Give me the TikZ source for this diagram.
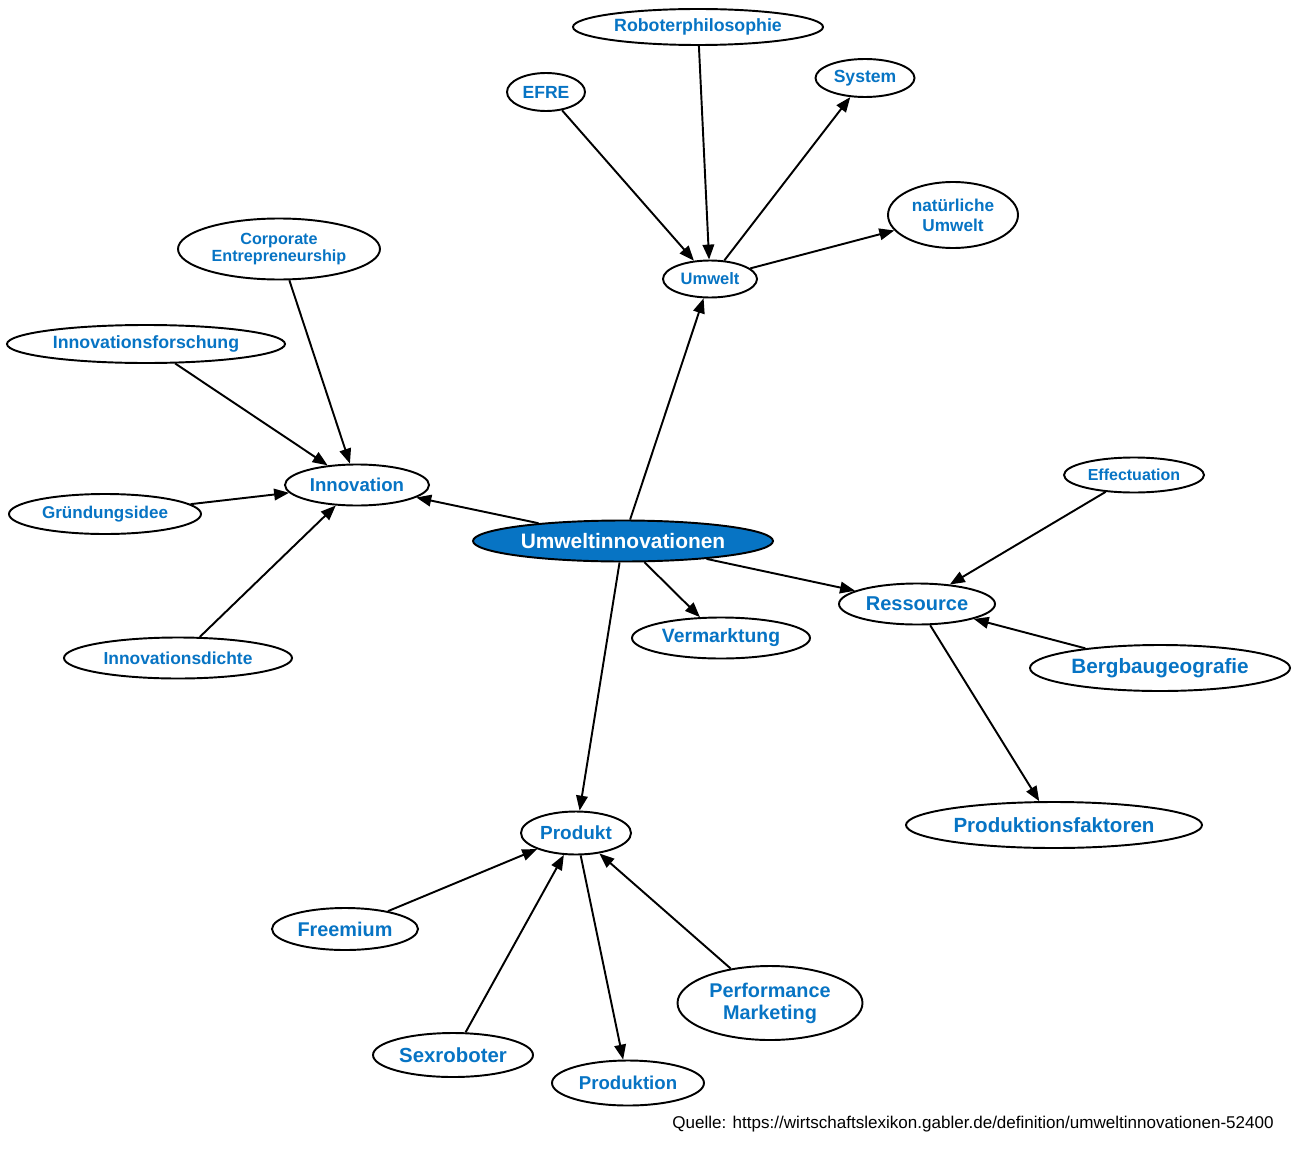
\documentclass[tikz,border=0pt]{standalone}
\usepackage{fontspec}
\setmainfont{Liberation Sans}
\usetikzlibrary{arrows.meta,shapes.geometric}
\definecolor{lexblue}{HTML}{0774C4}

\tikzset{
    term/.style={ellipse,draw,line width=1.1pt,fill=white,text=lexblue,
                 inner sep=0pt,align=center},
    hub/.style={term,fill=lexblue,text=white},
    dims/.style 2 args={minimum width=#1*0.02cm,minimum height=#2*0.02cm},
    fsize/.style={font={\fontsize{#1}{#1}\selectfont\bfseries}},
    link/.style={line width=1.1pt,-{Triangle[length=8.5pt,width=6.6pt]}}
}

\begin{document}
\begin{tikzpicture}[x=0.02cm,y=-0.02cm]
    \useasboundingbox (0,0) rectangle (1300,1152);

    % Centre
    \node[hub,dims={300}{41},fsize=11.9] (umwi) at (623,541) {Umweltinnovationen};

    % Umwelt branch
    \node[term,dims={94}{37},fsize=9.4] (umwelt) at (710,279) {Umwelt};
    \node[term,dims={250}{36},fsize=10.1] (robo) at (698,27) {Roboterphilosophie};
    \node[term,dims={78}{38},fsize=10] (efre) at (546,92) {EFRE};
    \node[term,dims={99}{38},fsize=10] (system) at (865,78) {System};
    \node[term,dims={130}{66},fsize=9.8] (natur) at (953,215) {natürliche\\[1.5pt]Umwelt};

    % Innovation branch
    \node[term,dims={144}{41},fsize=10.6] (innov) at (357,485) {Innovation};
    \node[term,dims={202}{61},fsize=9.2] (corp) at (279,249) {Corporate\\Entrepreneurship};
    \node[term,dims={278}{38},fsize=10.1] (iforsch) at (146,344) {Innovationsforschung};
    \node[term,dims={192}{40},fsize=9.7] (gruend) at (105,514) {Gründungsidee};
    \node[term,dims={228}{41},fsize=9.9] (idichte) at (178,658) {Innovationsdichte};

    % Ressource branch
    \node[term,dims={156}{41},fsize=11.4] (ress) at (917,604) {Ressource};
    \node[term,dims={140}{35},fsize=9.1] (effect) at (1134,475) {Effectuation};
    \node[term,dims={260}{46},fsize=11.8] (bergbau) at (1160,668) {Bergbaugeografie};
    \node[term,dims={296}{46},fsize=11.7] (pfakt) at (1054,825) {Produktionsfaktoren};

    \node[term,dims={178}{41},fsize=11] (vermark) at (721,638) {Vermarktung};

    % Produkt branch
    \node[term,dims={110}{43},fsize=10.8] (prod) at (576,833) {Produkt};
    \node[term,dims={146}{42},fsize=11.3] (freem) at (345,929) {Freemium};
    \node[term,dims={185}{74},fsize=11.3] (perf) at (770,1003) {Performance\\[1.2pt]Marketing};
    \node[term,dims={160}{44},fsize=11.6] (sexr) at (453,1055) {Sexroboter};
    \node[term,dims={152}{45},fsize=10.6] (produktion) at (628,1083) {Produktion};

    % Source
    \node[anchor=east,inner sep=0pt,font=\fontsize{9.7}{11}\selectfont] (quelle) at (1274,1124)
        {Quelle: https://wirtschaftslexikon.gabler.de/definition/umweltinnovationen-52400};

    % Edges
    \draw[link] (umwi) -- (umwelt);
    \draw[link] (umwi) -- (innov);
    \draw[link] (umwi) -- (vermark);
    \draw[link] (umwi) -- (ress);
    \draw[link] (umwi) -- (prod);

    \draw[link] (efre) -- (umwelt);
    \draw[link] (robo) -- (umwelt);
    \draw[link] (umwelt) -- (system);
    \draw[link] (umwelt) -- (natur);

    \draw[link] (corp) -- (innov);
    \draw[link] (iforsch) -- (innov);
    \draw[link] (gruend) -- (innov);
    \draw[link] (idichte) -- (innov);

    \draw[link] (effect) -- (ress);
    \draw[link] (bergbau) -- (ress);
    \draw[link] (ress) -- (pfakt);

    \draw[link] (freem) -- (prod);
    \draw[link] (sexr) -- (prod);
    \draw[link] (perf) -- (prod);
    \draw[link] (prod) -- (produktion);
\end{tikzpicture}
\end{document}
